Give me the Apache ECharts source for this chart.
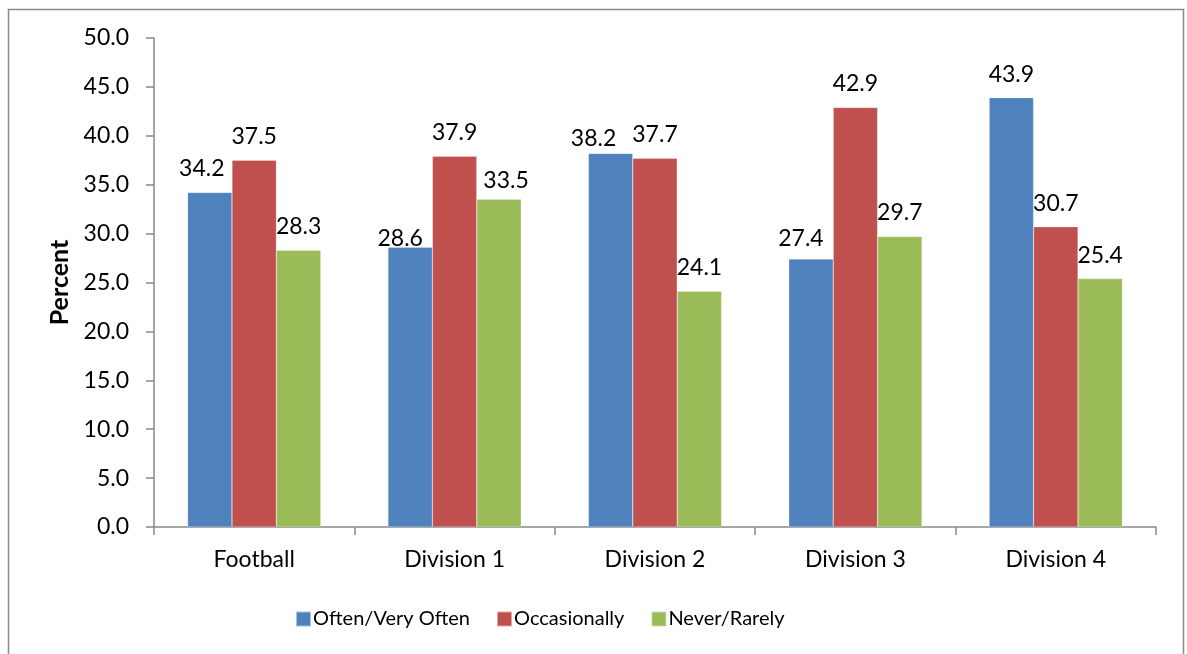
<!DOCTYPE html>
<html>
<head>
<meta charset="utf-8">
<script src="https://cdn.jsdelivr.net/npm/echarts@6/dist/echarts.min.js"></script>
<style>
html,body{margin:0;padding:0;background:#fff;}
#chart{width:1187px;height:654px;}
</style>
</head>
<body>
<div id="chart"></div>
<script>
const categories = ['Football', 'Division 1', 'Division 2', 'Division 3', 'Division 4'];
const oftenValues = [34.2, 28.6, 38.2, 27.4, 43.9];
const occasionallyValues = [37.5, 37.9, 37.7, 42.9, 30.7];
const neverValues = [28.3, 33.5, 24.1, 29.7, 25.4];
const seriesNames = ['Often/Very Often', 'Occasionally', 'Never/Rarely'];
const yTicks = [0, 5, 10, 15, 20, 25, 30, 35, 40, 45, 50];

// Label nudges (style only), as placed in the original: [seriesIndex][categoryIndex] -> [dx, dy]
const labelNudges = {
  0: {0: [-8, 0], 1: [-10, 15], 2: [-17, 9], 3: [-10, 3]},
  2: {1: [7, 5]}
};

const FONT = 'Lato';
const colors = ['#4F81BD', '#C0504D', '#9BBB59'];
const chart = echarts.init(document.getElementById('chart'), null, {renderer: 'canvas'});

function mkSeries(idx, name, data, color) {
  const nudges = labelNudges[idx] || {};
  return {
    name: name,
    type: 'bar',
    data: data.map((v, i) => nudges[i] ? {value: v, label: {offset: nudges[i]}} : v),
    barGap: '0%',
    barCategoryGap: '33.5%',
    itemStyle: {color: color, borderColor: 'rgba(255,255,255,0.5)', borderWidth: 0.5},
    label: {
      show: true,
      position: 'top',
      distance: 12,
      formatter: p => p.value.toFixed(1),
      fontFamily: FONT,
      fontSize: 23,
      color: '#000'
    }
  };
}

chart.setOption({
  animation: false,
  backgroundColor: '#fff',
  color: colors,
  graphic: [{
    type: 'rect',
    shape: {x: 8.5, y: 9.5, width: 1175, height: 700},
    style: {fill: 'none', stroke: '#8a8a8a', lineWidth: 1.5},
    silent: true
  }],
  grid: {left: 154, top: 38, right: 31, bottom: 127, containLabel: false},
  legend: {
    bottom: 20,
    left: 290,
    itemWidth: 15,
    itemHeight: 15,
    itemGap: 26,
    icon: 'rect',
    textStyle: {fontFamily: FONT, fontSize: 20, color: '#000', padding: [0, 0, 0, -3]},
    data: seriesNames
  },
  xAxis: {
    type: 'category',
    data: categories,
    axisLine: {lineStyle: {color: '#898989', width: 1.5}},
    axisTick: {show: true, length: 8, alignWithLabel: false, lineStyle: {color: '#898989', width: 1.5}},
    axisLabel: {fontFamily: FONT, fontSize: 23, color: '#000', margin: 21}
  },
  yAxis: {
    type: 'value',
    min: yTicks[0],
    max: yTicks[yTicks.length - 1],
    interval: yTicks[1] - yTicks[0],
    name: 'Percent',
    nameLocation: 'middle',
    nameGap: 82,
    nameRotate: 90,
    nameTextStyle: {fontFamily: FONT, fontSize: 25, fontWeight: 'bold', color: '#000'},
    splitLine: {show: false},
    axisLine: {show: true, lineStyle: {color: '#898989', width: 1.5}},
    axisTick: {show: true, length: 8, lineStyle: {color: '#898989', width: 1.5}},
    axisLabel: {fontFamily: FONT, fontSize: 23, color: '#000', margin: 25, formatter: v => v.toFixed(1)}
  },
  series: [
    mkSeries(0, seriesNames[0], oftenValues, colors[0]),
    mkSeries(1, seriesNames[1], occasionallyValues, colors[1]),
    mkSeries(2, seriesNames[2], neverValues, colors[2])
  ]
});
</script>
</body>
</html>
